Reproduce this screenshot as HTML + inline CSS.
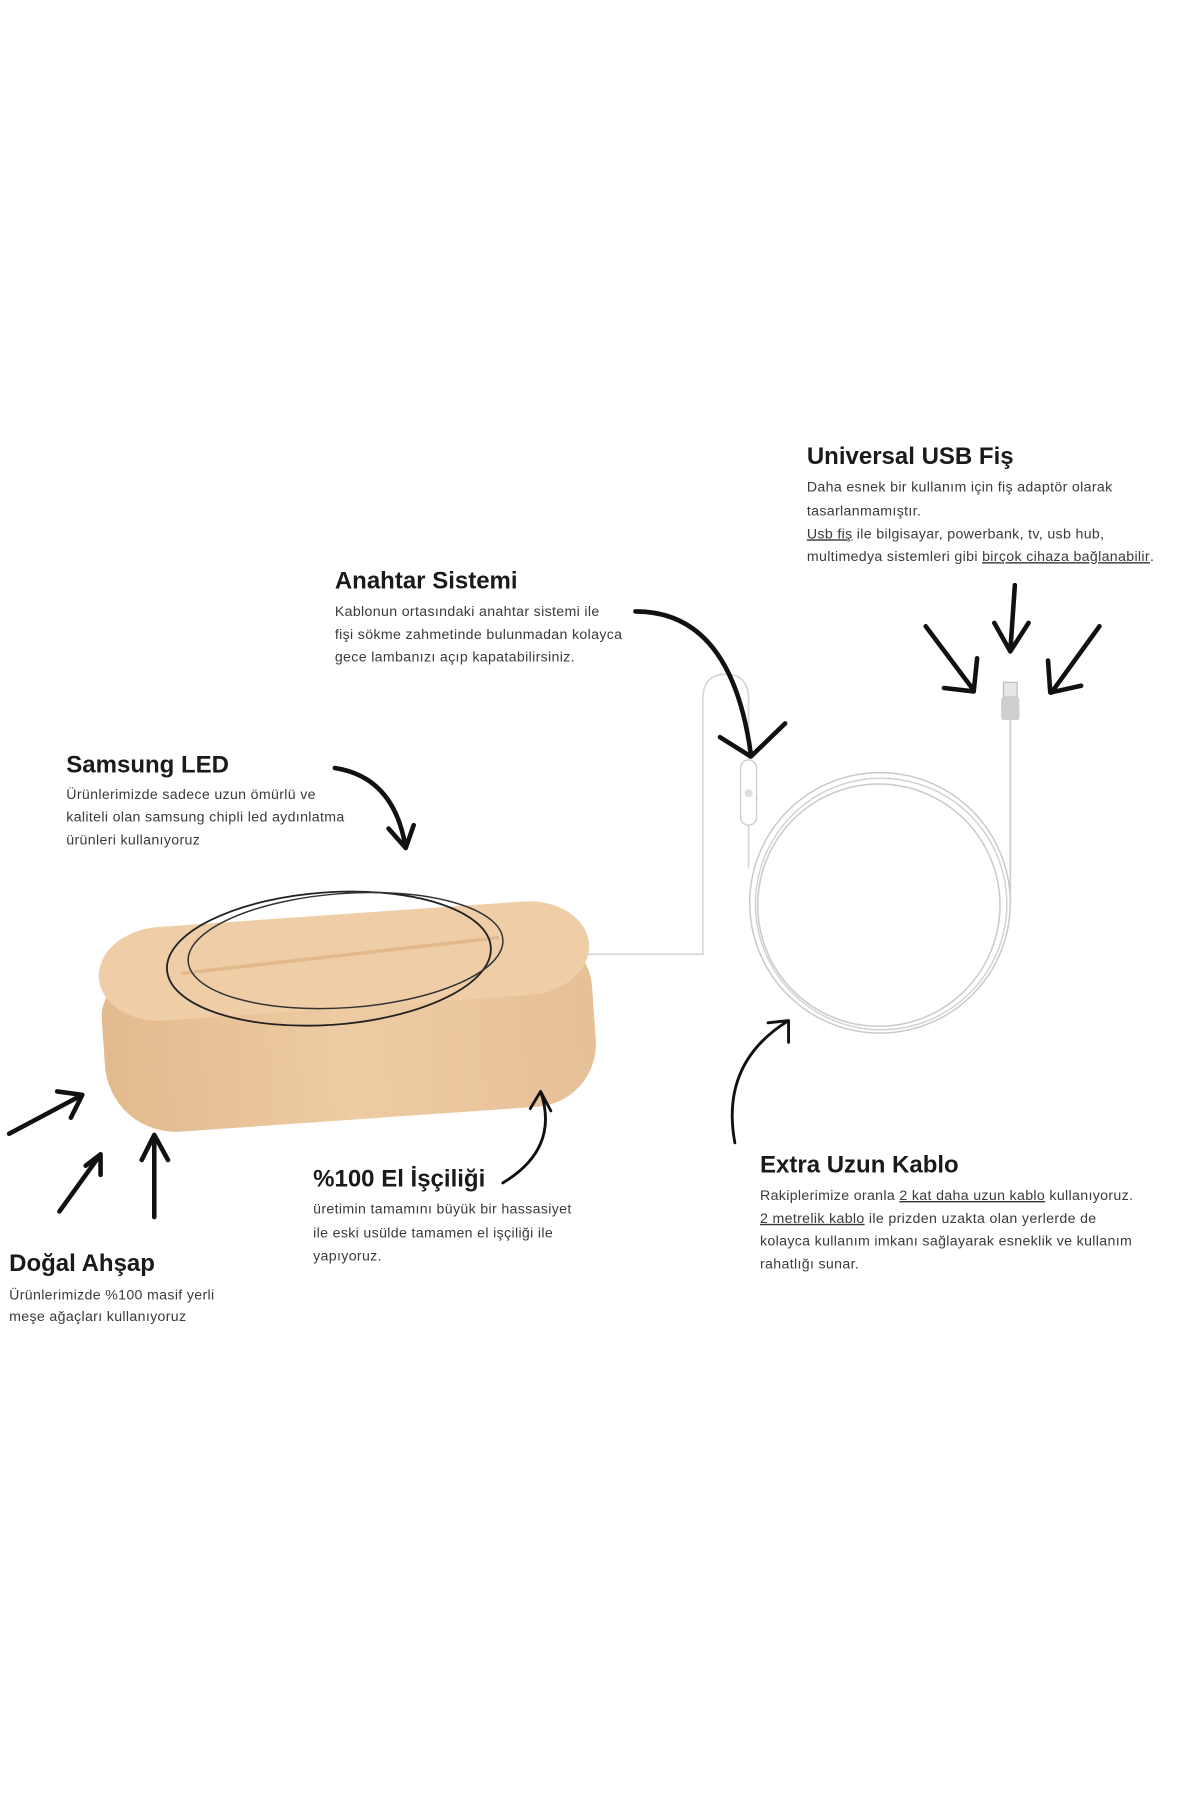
<!DOCTYPE html>
<html><head><meta charset="utf-8"><style>
html,body{margin:0;padding:0;background:#fff;width:1200px;height:1800px;overflow:hidden}
svg{display:block}
.t{font-family:"Liberation Sans",sans-serif;font-weight:bold;font-size:21px;fill:#1a1a1a}
.b{font-family:"Liberation Sans",sans-serif;font-size:12.4px;letter-spacing:0.3px;fill:#3a3a3a}
.a{fill:none;stroke:#111;stroke-width:4;stroke-linecap:round;stroke-linejoin:round}
</style></head><body>
<svg width="1200" height="1800" viewBox="0 0 1050 1575" xmlns="http://www.w3.org/2000/svg">
<defs>
<linearGradient id="w" x1="0" y1="0" x2="1" y2="0">
<stop offset="0" stop-color="#e2ba8e"/><stop offset="0.5" stop-color="#eecba3"/><stop offset="1" stop-color="#e6c097"/>
</linearGradient>
</defs>
<!-- cable -->
<path d="M512 835 H615 V612 Q615 590 635 590 Q655 590 655 612 V665" fill="none" stroke="#d8d8d8" stroke-width="1.5"/>
<path d="M655 720 V760" fill="none" stroke="#d8d8d8" stroke-width="1.5"/>
<rect x="648" y="665" width="14" height="57" rx="7" fill="#fff" stroke="#ccc" stroke-width="1.2"/>
<circle cx="655" cy="694" r="3.5" fill="#ddd"/>
<circle cx="770" cy="790" r="114" fill="none" stroke="#c9c9c9" stroke-width="1.3"/>
<circle cx="771" cy="791" r="110" fill="none" stroke="#d2d2d2" stroke-width="1.3"/>
<circle cx="769" cy="792" r="106" fill="none" stroke="#c9c9c9" stroke-width="1.3"/>
<path d="M884 630 V790" stroke="#cfcfcf" stroke-width="1.5"/>
<rect x="878" y="597" width="12" height="13" fill="#e6e6e6" stroke="#bbb"/>
<rect x="876" y="610" width="16" height="20" rx="2" fill="#cfcfcf"/>
<!-- wood base -->
<g transform="rotate(-4 300 870)">
<path d="M150 830 H470 A48 48 0 0 1 518 878 V925 A55 55 0 0 1 463 980 H150 A62 62 0 0 1 88 918 V878 A60 48 0 0 1 150 830 Z" fill="url(#w)"/>
<rect x="88" y="800" width="430" height="82" rx="55" ry="41" fill="#efcea7"/>
<path d="M160 842 L440 830" stroke="#e2b98c" stroke-width="3"/>
<ellipse cx="290" cy="838" rx="142" ry="58" fill="none" stroke="#222" stroke-width="1.6"/>
<ellipse cx="305" cy="832" rx="138" ry="50" fill="none" stroke="#333" stroke-width="1.3"/>
</g>
<!-- arrows -->
<path class="a" d="M293 672 Q345 680 355 742 M340 725 L355 742 L362 722"/>
<path class="a" d="M556 535 Q640 535 657 660 M630 645 L657 662 L687 633"/>
<path class="a" d="M810 548 L852 604 M826 602 L852 605 L855 576"/>
<path class="a" d="M888 512 L884 570 M870 545 L884 570 L900 545"/>
<path class="a" d="M962 548 L920 606 M917 578 L919 606 L946 600"/>
<path class="a" d="M643 1000 Q630 930 690 893 M672 895 L690 893 L690 912" style="stroke-width:2.5"/>
<path class="a" d="M440 1035 Q490 1005 473 955 M464 970 L473 955 L482 972" style="stroke-width:2.5"/>
<path class="a" d="M8 992 L72 958 M50 955 L72 958 L62 978"/>
<path class="a" d="M52 1060 L88 1010 M75 1020 L88 1010 L88 1028"/>
<path class="a" d="M135 1065 L135 993 M124 1015 L135 993 L147 1015"/>
<!-- text -->
<text class="t" x="706" y="406">Universal USB Fiş</text>
<text class="b" x="706" y="430">Daha esnek bir kullanım için fiş adaptör olarak</text>
<text class="b" x="706" y="451">tasarlanmamıştır.</text>
<text class="b" x="706" y="471"><tspan text-decoration="underline">Usb fiş</tspan> ile bilgisayar, powerbank, tv, usb hub,</text>
<text class="b" x="706" y="491">multimedya sistemleri gibi <tspan text-decoration="underline">birçok cihaza bağlanabilir</tspan>.</text>
<text class="t" x="293" y="515">Anahtar Sistemi</text>
<text class="b" x="293" y="539">Kablonun ortasındaki anahtar sistemi ile</text>
<text class="b" x="293" y="559">fişi sökme zahmetinde bulunmadan kolayca</text>
<text class="b" x="293" y="579">gece lambanızı açıp kapatabilirsiniz.</text>
<text class="t" x="58" y="676">Samsung LED</text>
<text class="b" x="58" y="699">Ürünlerimizde sadece uzun ömürlü ve</text>
<text class="b" x="58" y="719">kaliteli olan samsung chipli led aydınlatma</text>
<text class="b" x="58" y="739">ürünleri kullanıyoruz</text>
<text class="t" x="274" y="1038">%100 El İşçiliği</text>
<text class="b" x="274" y="1062">üretimin tamamını büyük bir hassasiyet</text>
<text class="b" x="274" y="1083">ile eski usülde tamamen el işçiliği ile</text>
<text class="b" x="274" y="1103">yapıyoruz.</text>
<text class="t" x="8" y="1112">Doğal Ahşap</text>
<text class="b" x="8" y="1137">Ürünlerimizde %100 masif yerli</text>
<text class="b" x="8" y="1156">meşe ağaçları kullanıyoruz</text>
<text class="t" x="665" y="1026">Extra Uzun Kablo</text>
<text class="b" x="665" y="1050">Rakiplerimize oranla <tspan text-decoration="underline">2 kat daha uzun kablo</tspan> kullanıyoruz.</text>
<text class="b" x="665" y="1070"><tspan text-decoration="underline">2 metrelik  kablo</tspan> ile prizden uzakta olan yerlerde de</text>
<text class="b" x="665" y="1090">kolayca kullanım imkanı sağlayarak esneklik ve kullanım</text>
<text class="b" x="665" y="1110">rahatlığı sunar.</text>
</svg>
</body></html>
